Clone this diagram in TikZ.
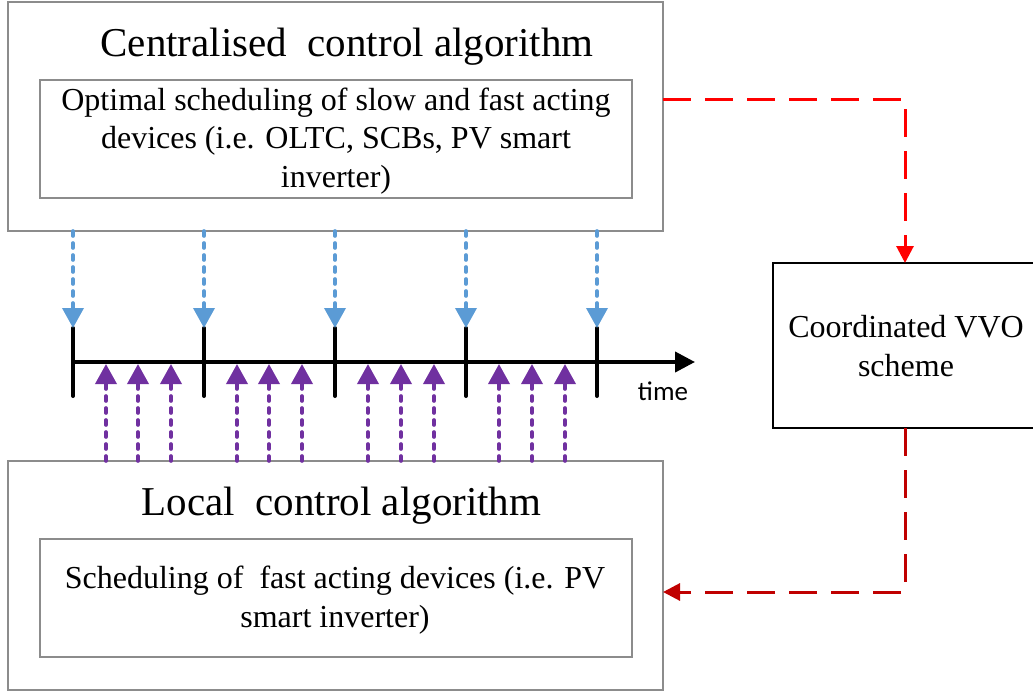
\documentclass[tikz,border=0pt]{standalone}
\usepackage{fontspec}
\setmainfont{Liberation Serif}
\newfontfamily\labelsans{Carlito}
\usetikzlibrary{arrows.meta}
\definecolor{boxgray}{HTML}{8C8C8C}
\definecolor{schedblue}{HTML}{5B9BD5}
\definecolor{localpurple}{HTML}{7030A0}
\definecolor{signalred}{HTML}{FF0000}
\definecolor{feedbackred}{HTML}{C00000}

\begin{document}
\begin{tikzpicture}[x=1pt,y=-1pt,
  panel/.style={draw=boxgray, line width=1.3pt, inner sep=0pt, outer sep=0pt, anchor=north west},
  subpanel/.style={draw=boxgray, line width=1.1pt, inner sep=0pt, outer sep=0pt, anchor=north west},
  vvobox/.style={draw=black, line width=2.6pt, inner sep=0pt, outer sep=0pt, anchor=north west},
  bigtitle/.style={font=\fontsize{41}{48}\selectfont, inner sep=0pt, anchor=base},
  bodytext/.style={font=\fontsize{32}{38.5}\selectfont, inner sep=0pt, align=center},
  axis/.style={line width=4pt, -{Triangle[length=20pt,width=20pt]}},
  tickmark/.style={line width=4pt, line cap=round},
  centralarrow/.style={schedblue, line width=3.6pt, line cap=round, dash pattern=on 5pt off 7pt,
    -{Triangle[length=20pt,width=21pt]}},
  localarrow/.style={localpurple, line width=3.6pt, line cap=round, dash pattern=on 5pt off 7pt,
    -{Triangle[length=20pt,width=21pt]}},
  reddash/.style={line width=3pt, dash pattern=on 28pt off 14pt},
]
\useasboundingbox (0,0) rectangle (1033,693);

% centralised control block
\node[panel, minimum width=655pt, minimum height=229pt] (ctop) at (8,2) {};
\node[bigtitle] (ctitle) at (347,57) {Centralised\ \ control algorithm};
\node[subpanel, minimum width=592pt, minimum height=118pt] (cinner) at (40,80) {};
\node[bodytext] (ctext) at (336,141) {Optimal scheduling of slow and fast acting\\devices (i.e. OLTC, SCBs, PV smart\\inverter)};

% local control block
\node[panel, minimum width=655pt, minimum height=229pt] (clocal) at (8,461) {};
\node[bigtitle] (ltitle) at (341.5,515) {Local\ \ control algorithm};
\node[subpanel, minimum width=592pt, minimum height=118pt] (linner) at (40,539) {};
\node[bodytext] (ltext) at (335,600) {Scheduling of\ \ fast acting devices (i.e. PV\\smart inverter)};

% coordinating scheme
\node[vvobox, minimum width=264pt, minimum height=165pt] (vvo) at (773,263) {};
\node[bodytext] (vvotext) at (906,346) {Coordinated VVO\\scheme};

% time axis
\coordinate (tstart) at (73,362);
\coordinate (tend) at (695,362);
\draw[axis] (tstart) -- (tend);
\node[font=\labelsans\fontsize{27}{32}\selectfont, inner sep=0pt, anchor=base] (tlabel) at (663,400) {time};

% ticks for centralised updates
\foreach \i/\x in {1/73,2/204,3/335,4/466,5/597}{
  \coordinate (k\i) at (\x,328);
  \draw[tickmark] (k\i) -- ++(0,68);
  \draw[centralarrow] (ctop.south -| k\i) -- (k\i);
}

% local updates between ticks
\foreach \i/\x in {1/106,2/138,3/171,4/237,5/269,6/302,7/368,8/401,9/434,10/499,11/532,12/565}{
  \coordinate (p\i) at (\x,364);
  \draw[localarrow] (clocal.north -| p\i) -- (p\i);
}

% coordination links
\draw[reddash, signalred, -{Triangle[length=17pt,width=17pt]}]
  ([yshift=-97pt]ctop.north east) -| (vvo.north);
\draw[reddash, feedbackred, -{Triangle[length=17pt,width=17pt]}]
  (vvo.south) |- ([yshift=-131pt]clocal.north east);
\end{tikzpicture}
\end{document}
